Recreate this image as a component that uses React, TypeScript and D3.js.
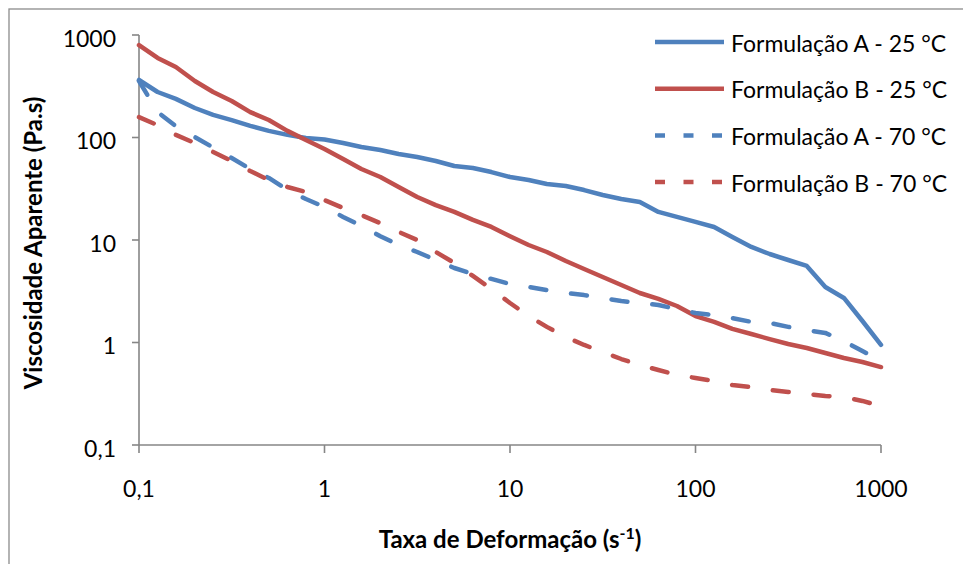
import React from "react";
import * as d3 from "d3";

const shearRate = [
  0.1, 0.126, 0.158, 0.2, 0.251, 0.316, 0.398, 0.501, 0.631, 0.794,
  1, 1.26, 1.58, 2, 2.51, 3.16, 3.98, 5.01, 6.31, 7.94,
  10, 12.6, 15.8, 20, 25.1, 31.6, 39.8, 50.1, 63.1, 79.4,
  100, 126, 158, 200, 251, 316, 398, 501, 631, 794, 1000,
];

const formA25 = [
  364, 278, 238, 194, 166, 148, 130, 116, 106, 98.8,
  95.5, 88.3, 80.7, 75.5, 69.0, 64.5, 59.0, 52.7, 50.4, 46.0,
  41.2, 38.5, 35.2, 33.6, 30.7, 27.5, 25.1, 23.5, 18.8, 16.8,
  15.0, 13.4, 10.7, 8.55, 7.3, 6.38, 5.58, 3.48, 2.72, 1.62, 0.95,
];

const formB25 = [
  798, 597, 488, 356, 278, 227, 177, 148, 116, 94.6,
  77.3, 61.7, 49.3, 41.2, 32.9, 26.3, 21.9, 18.8, 15.7, 13.4,
  10.9, 8.94, 7.64, 6.24, 5.21, 4.35, 3.64, 3.04, 2.66, 2.27,
  1.81, 1.59, 1.36, 1.21, 1.08, 0.967, 0.883, 0.79, 0.706, 0.645, 0.576,
];

const formA70 = [
  356, 177, 129, 101, 79.8, 63.1, 49.3, 40.3, 30.8, 25.1,
  21.0, 16.8, 13.7, 10.9, 8.94, 7.64, 6.38, 5.33, 4.66, 4.17,
  3.72, 3.48, 3.25, 3.04, 2.9, 2.72, 2.54, 2.43, 2.32, 2.12,
  1.94, 1.85, 1.73, 1.59, 1.55, 1.42, 1.32, 1.24, 1.03, 0.826, 0.661,
];

const formB70 = [
  158, 132, 106, 88.3, 72.3, 59.0, 47.1, 38.5, 32.9, 29.4,
  24.5, 20.5, 17.5, 14.6, 12.0, 10.0, 7.64, 5.97, 4.46, 3.33,
  2.43, 1.81, 1.42, 1.13, 0.946, 0.808, 0.69, 0.603, 0.539, 0.482,
  0.451, 0.421, 0.385, 0.368, 0.344, 0.329, 0.315, 0.301, 0.294, 0.269, 0.24,
];

const tickValues = [0.1, 1, 10, 100, 1000];
const tickLabels = ["0,1", "1", "10", "100", "1000"];

const seriesNames = [
  "Formulação A - 25 °C",
  "Formulação B - 25 °C",
  "Formulação A - 70 °C",
  "Formulação B - 70 °C",
];

const BLUE = "#4F81BD";
const RED = "#C0504D";
const AXIS = "#868686";
const FONT = "Lato, 'Liberation Sans', sans-serif";

export default function App() {
  const W = 963;
  const H = 564;
  const x = d3.scaleLog().domain([0.1, 1000]).range([139, 881]);
  const y = d3.scaleLog().domain([0.1, 1000]).range([445, 35]);

  const series = [
    { name: seriesNames[0], values: formA25, color: BLUE, dashed: false },
    { name: seriesNames[1], values: formB25, color: RED, dashed: false },
    { name: seriesNames[2], values: formA70, color: BLUE, dashed: true },
    { name: seriesNames[3], values: formB70, color: RED, dashed: true },
  ];

  const line = d3
    .line<[number, number]>()
    .x((d) => x(d[0]))
    .y((d) => y(d[1]));

  const legendX0 = 655;
  const legendX1 = 724;
  const legendY0 = 42;
  const legendStep = 46.7;

  return (
    <svg
      width={W}
      height={H}
      style={{ position: "absolute", left: 0, top: 0, background: "#fff" }}
      fontFamily={FONT}
    >
      <rect x={0} y={0} width={W} height={H} fill="#fff" />
      <rect x={9} y={9} width={1000} height={1000} fill="none" stroke="#8c8c8c" strokeWidth={1.3} />

      {/* axes */}
      <line x1={x(0.1)} x2={x(0.1)} y1={y(0.1)} y2={y(1000)} stroke={AXIS} strokeWidth={1.6} />
      <line x1={x(0.1)} x2={x(1000)} y1={y(0.1)} y2={y(0.1)} stroke={AXIS} strokeWidth={1.6} />
      {tickValues.map((v, i) => (
        <g key={"yt" + i}>
          <line x1={x(0.1) - 7} x2={x(0.1)} y1={y(v)} y2={y(v)} stroke={AXIS} strokeWidth={1.6} />
          <text x={116} y={y(v) + 11.5} textAnchor="end" fontSize={23} fill="#000">
            {tickLabels[i]}
          </text>
        </g>
      ))}
      {tickValues.map((v, i) => (
        <g key={"xt" + i}>
          <line x1={x(v)} x2={x(v)} y1={y(0.1)} y2={y(0.1) + 8} stroke={AXIS} strokeWidth={1.6} />
          <text x={x(v)} y={497} textAnchor="middle" fontSize={23} fill="#000">
            {tickLabels[i]}
          </text>
        </g>
      ))}

      {/* series */}
      {series.map((s, i) => (
        <path
          key={"s" + i}
          d={line(shearRate.map((r, j) => [r, s.values[j]] as [number, number])) || ""}
          fill="none"
          stroke={s.color}
          strokeWidth={4.5}
          strokeLinejoin="round"
          strokeLinecap="round"
          strokeDasharray={s.dashed ? "16 25" : undefined}
        />
      ))}

      {/* legend */}
      {series.map((s, i) => (
        <g key={"lg" + i}>
          <line
            x1={legendX0}
            x2={legendX1}
            y1={legendY0 + i * legendStep}
            y2={legendY0 + i * legendStep}
            stroke={s.color}
            strokeWidth={4.5}
            strokeDasharray={s.dashed ? "10 18.5" : undefined}
          />
          <text x={731} y={legendY0 + i * legendStep + 9.5} fontSize={23} fill="#000">
            {s.name}
          </text>
        </g>
      ))}

      {/* axis titles */}
      <text x={510} y={548} textAnchor="middle" fontSize={24} fontWeight="bold" fill="#000">
        Taxa de Deformação  (s
        <tspan dy={-9} fontSize={16}>-1</tspan>
        <tspan dy={9}>)</tspan>
      </text>
      <text
        transform={`translate(42, 243) rotate(-90)`}
        textAnchor="middle"
        fontSize={24}
        fontWeight="bold"
        fill="#000"
      >
        Viscosidade Aparente (Pa.s)
      </text>
    </svg>
  );
}
